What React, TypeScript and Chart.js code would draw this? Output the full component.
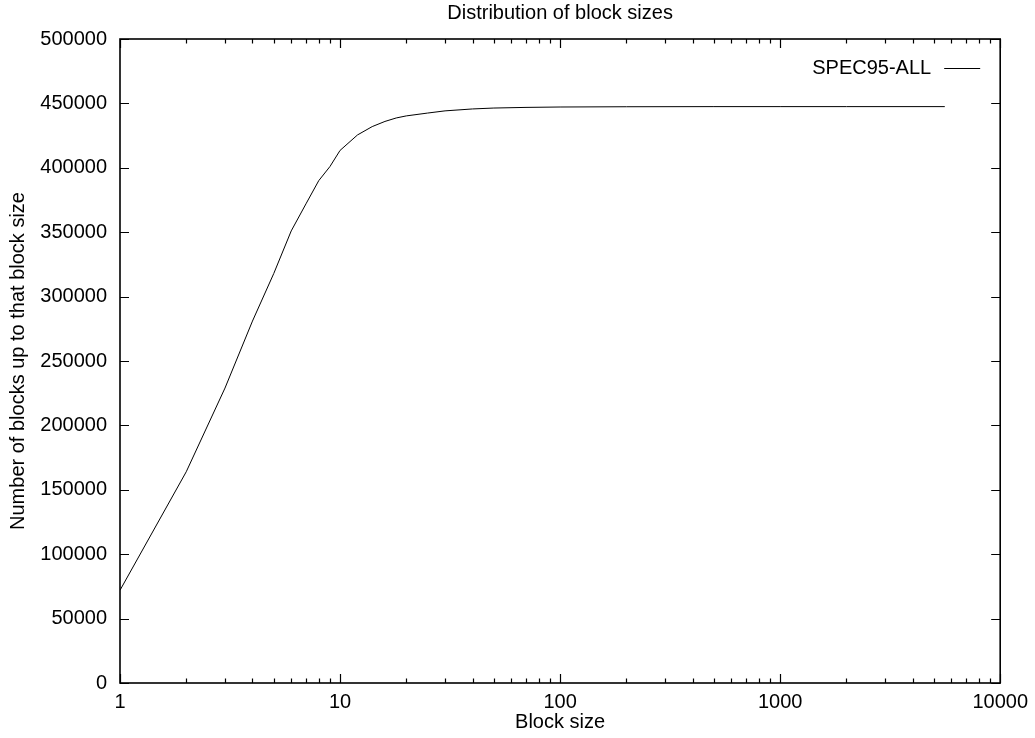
import React, { useEffect, useRef } from "react";
import { Chart, registerables } from "chart.js";

Chart.register(...registerables);

const blockSizes = [1, 2, 3, 4, 5, 6, 7, 8, 9, 10, 12, 14, 16, 18, 20, 25, 30, 40, 50, 70, 100, 200, 500, 1000, 2000, 5600];
const blockCounts = [72000, 164000, 229000, 281000, 318000, 351000, 372000, 390000, 401000, 413500, 425500, 432000, 436000, 438700, 440300, 442500, 444200, 445700, 446400, 446900, 447200, 447400, 447500, 447500, 447500, 447500];
const seriesLabel = "SPEC95-ALL";
const xTickValues = [1, 10, 100, 1000, 10000];
const yTickValues = [0, 50000, 100000, 150000, 200000, 250000, 300000, 350000, 400000, 450000, 500000];
const chartTitle = "Distribution of block sizes";
const xTitle = "Block size";
const yTitle = "Number of blocks up to that block size";

const FONT = "'Liberation Sans', Arial, Helvetica, sans-serif";
const FS = 20;

const gnuplotFrame = {
  id: "gnuplotFrame",
  afterDatasetsDraw(chart: any) {
    const { ctx, chartArea, scales } = chart;
    const { left, right, top, bottom } = chartArea;
    const x = scales.x;
    const y = scales.y;
    ctx.save();
    ctx.strokeStyle = "#000";
    ctx.lineWidth = 1.2;
    ctx.beginPath();
    for (const v of yTickValues) {
      const py = Math.round(y.getPixelForValue(v)) + 0.5;
      ctx.moveTo(left, py);
      ctx.lineTo(left + 9, py);
      ctx.moveTo(right, py);
      ctx.lineTo(right - 9, py);
    }
    for (let d = 0; d < xTickValues.length; d++) {
      const base = xTickValues[d];
      const mults = d === xTickValues.length - 1 ? [1] : [1, 2, 3, 4, 5, 6, 7, 8, 9];
      for (const m of mults) {
        const v = base * m;
        const px = Math.round(x.getPixelForValue(v)) + 0.5;
        const len = m === 1 ? 9 : 4.5;
        ctx.moveTo(px, bottom);
        ctx.lineTo(px, bottom - len);
        ctx.moveTo(px, top);
        ctx.lineTo(px, top + len);
      }
    }
    ctx.stroke();
    ctx.lineWidth = 1.6;
    ctx.strokeRect(left, top, right - left, bottom - top);

    ctx.font = `${FS}px ${FONT}`;
    ctx.fillStyle = "#000";
    ctx.textBaseline = "middle";

    // title, centred over the plot area (gnuplot style)
    ctx.textAlign = "center";
    ctx.fillText(chartTitle, (left + right) / 2, 13);

    // legend (gnuplot style: text then line sample)
    const ds = chart.data.datasets[0];
    const ly = top + 29;
    ctx.textAlign = "right";
    ctx.fillText(ds.label, right - 69, ly);
    ctx.lineWidth = 1;
    ctx.beginPath();
    ctx.moveTo(right - 56, Math.round(ly) + 0.5);
    ctx.lineTo(right - 20, Math.round(ly) + 0.5);
    ctx.stroke();
    ctx.restore();
  },
};

export default function App() {
  const ref = useRef<HTMLCanvasElement | null>(null);

  useEffect(() => {
    document.body.style.margin = "0";
    if (!ref.current) return;
    const chart = new Chart(ref.current, {
      type: "line",
      data: {
        datasets: [
          {
            label: seriesLabel,
            data: blockSizes.map((b, i) => ({ x: b, y: blockCounts[i] })),
            borderColor: "#000",
            borderWidth: 1,
            pointRadius: 0,
            fill: false,
            tension: 0,
          },
        ],
      },
      options: {
        responsive: false,
        animation: false,
        layout: { padding: { top: 39, right: 34, bottom: 0, left: 0 } },
        plugins: {
          legend: { display: false },
          tooltip: { enabled: false },
          title: { display: false },
        },
        scales: {
          x: {
            type: "logarithmic",
            min: 1,
            max: 10000,
            grid: { display: false, drawTicks: false },
            border: { display: false },
            afterBuildTicks: (scale: any) => {
              scale.ticks = xTickValues.map((v) => ({ value: v }));
            },
            afterFit: (scale: any) => {
              scale.height = 55;
            },
            ticks: {
              autoSkip: false,
              maxRotation: 0,
              padding: 7,
              color: "#000",
              font: { family: FONT, size: FS },
              callback: (v: any) => String(v),
            },
            title: {
              display: true,
              text: xTitle,
              color: "#000",
              font: { family: FONT, size: FS },
              padding: { top: 0, bottom: 4 },
            },
          },
          y: {
            type: "linear",
            min: 0,
            max: 500000,
            grid: { display: false, drawTicks: false },
            border: { display: false },
            afterBuildTicks: (scale: any) => {
              scale.ticks = yTickValues.map((v) => ({ value: v }));
            },
            afterFit: (scale: any) => {
              scale.width = 120;
            },
            ticks: {
              padding: 13,
              color: "#000",
              font: { family: FONT, size: FS },
              callback: (v: any) => String(v),
            },
            title: {
              display: true,
              text: yTitle,
              color: "#000",
              font: { family: FONT, size: FS },
              padding: { top: 6, bottom: 0 },
            },
          },
        },
      },
      plugins: [gnuplotFrame],
    } as any);
    return () => chart.destroy();
  }, []);

  return <canvas ref={ref} width={1035} height={738} style={{ display: "block" }} />;
}
